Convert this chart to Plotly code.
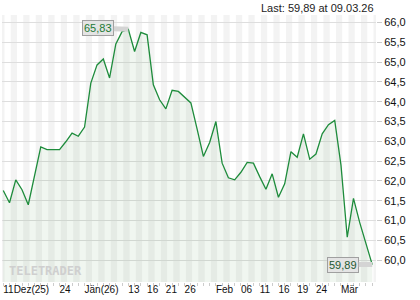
import plotly.graph_objects as go

# ---- data ----
dates = ["11.12.25","12.12.25","15.12.25","16.12.25","17.12.25","18.12.25","19.12.25","22.12.25","23.12.25","24.12.25",
         "29.12.25","30.12.25","31.12.25","02.01.26","05.01.26","06.01.26","07.01.26","08.01.26","09.01.26","12.01.26",
         "13.01.26","14.01.26","15.01.26","16.01.26","19.01.26","20.01.26","21.01.26","22.01.26","23.01.26","26.01.26",
         "27.01.26","28.01.26","29.01.26","30.01.26","02.02.26","03.02.26","04.02.26","05.02.26","06.02.26","09.02.26",
         "10.02.26","11.02.26","12.02.26","13.02.26","16.02.26","17.02.26","18.02.26","19.02.26","20.02.26","23.02.26",
         "24.02.26","25.02.26","26.02.26","27.02.26","02.03.26","03.03.26","04.03.26","05.03.26","06.03.26","09.03.26"]
prices = [61.76, 61.45, 62.03, 61.78, 61.40, 62.13, 62.86, 62.79, 62.79, 62.79,
          62.99, 63.21, 63.13, 63.36, 64.47, 64.93, 65.08, 64.60, 65.46, 65.77,
          65.83, 65.27, 65.75, 65.69, 64.43, 64.05, 63.82, 64.29, 64.26, 64.12,
          63.97, 63.31, 62.62, 62.97, 63.50, 62.45, 62.08, 62.03, 62.22, 62.47,
          62.45, 62.11, 61.79, 62.18, 61.59, 61.93, 62.74, 62.60, 63.19, 62.55,
          62.68, 63.19, 63.42, 63.53, 62.40, 60.58, 61.56, 60.95, 60.42, 59.89]
tick_idx = [0, 9, 13, 20, 23, 26, 29, 34, 38, 41, 44, 47, 50, 54]
tick_text = ["11Dez(25)", "24", "Jän(26)", "13", "16", "21", "26", "Feb", "06", "11", "16", "19", "24", "Mär"]
y_ticks = [60.0, 60.5, 61.0, 61.5, 62.0, 62.5, 63.0, 63.5, 64.0, 64.5, 65.0, 65.5, 66.0]
max_label = "65,83"
last_label = "59,89"
header = "Last: 59,89 at 09.03.26"
watermark = "TELETRADER"

x = list(range(len(prices)))
imax = prices.index(max(prices))
ilast = len(prices) - 1

FONT = "Liberation Sans, Arial, sans-serif"
fig = go.Figure()
fig.add_trace(go.Scatter(
    x=x, y=prices, mode="lines",
    line=dict(color="#1e8c3c", width=1.3),
    fill="tozeroy", fillcolor="rgba(70,140,70,0.08)",
    hoverinfo="skip", showlegend=False,
))

# alternating day stripes
shapes = []
for i in range(0, len(prices) + 1, 2):
    shapes.append(dict(type="rect", xref="x", yref="paper", x0=i - 0.8, x1=i + 0.2,
                       y0=0, y1=1, fillcolor="#f3f3f3", line=dict(width=0), layer="below"))

fig.update_layout(
    width=420, height=300,
    margin=dict(l=2, r=44, t=15, b=18),
    paper_bgcolor="white", plot_bgcolor="white",
    separators=",.",
    font=dict(family=FONT, size=11, color="#222"),
    shapes=shapes,
    xaxis=dict(
        range=[-0.2, 59.6], showgrid=False, zeroline=False,
        tickvals=tick_idx, ticktext=tick_text,
        ticks="", ticklabelposition="outside right", tickangle=0,
        ticklabeloverflow="allow",
        tickfont=dict(size=10, color="#111"),
        minor=dict(tick0=0, dtick=1, ticks="outside", ticklen=3, tickcolor="#cccccc", showgrid=False),
        showline=False,
    ),
    yaxis=dict(
        range=[59.45, 66.19], side="right",
        tickvals=y_ticks, tickformat=".1f",
        showgrid=True, gridcolor="#dedede", gridwidth=1,
        ticks="outside", ticklen=5, tickcolor="#cccccc",
        zeroline=False, showline=False,
        tickfont=dict(size=11, color="#111"),
    ),
    annotations=[
        dict(x=imax, y=prices[imax], xref="x", yref="y", text=max_label,
             showarrow=True, ax=-30, ay=-1, arrowhead=0, arrowwidth=5, arrowcolor="#d4d4d4",
             standoff=0, bgcolor="#e4e4e4", bordercolor="#a0a0a0", borderwidth=1, borderpad=1,
             font=dict(size=11, color="#1e7a36")),
        dict(x=ilast, y=prices[ilast], xref="x", yref="y", text=last_label,
             showarrow=True, ax=-29, ay=0, arrowhead=0, arrowwidth=5, arrowcolor="#d4d4d4",
             standoff=0, bgcolor="#e4e4e4", bordercolor="#a0a0a0", borderwidth=1, borderpad=1,
             font=dict(size=11, color="#1e5a30")),
        dict(x=1, y=1.026, xref="paper", yref="paper", text=header, showarrow=False,
             xanchor="right", yanchor="middle", font=dict(size=11, color="#222")),
        dict(x=0.013, y=0.043, xref="paper", yref="paper", text="<b>" + watermark + "</b>",
             showarrow=False, xanchor="left", yanchor="middle",
             font=dict(size=12, color="#cfcfcf", family="DejaVu Sans Mono")),
    ],
)

fig.write_html("out.html")
